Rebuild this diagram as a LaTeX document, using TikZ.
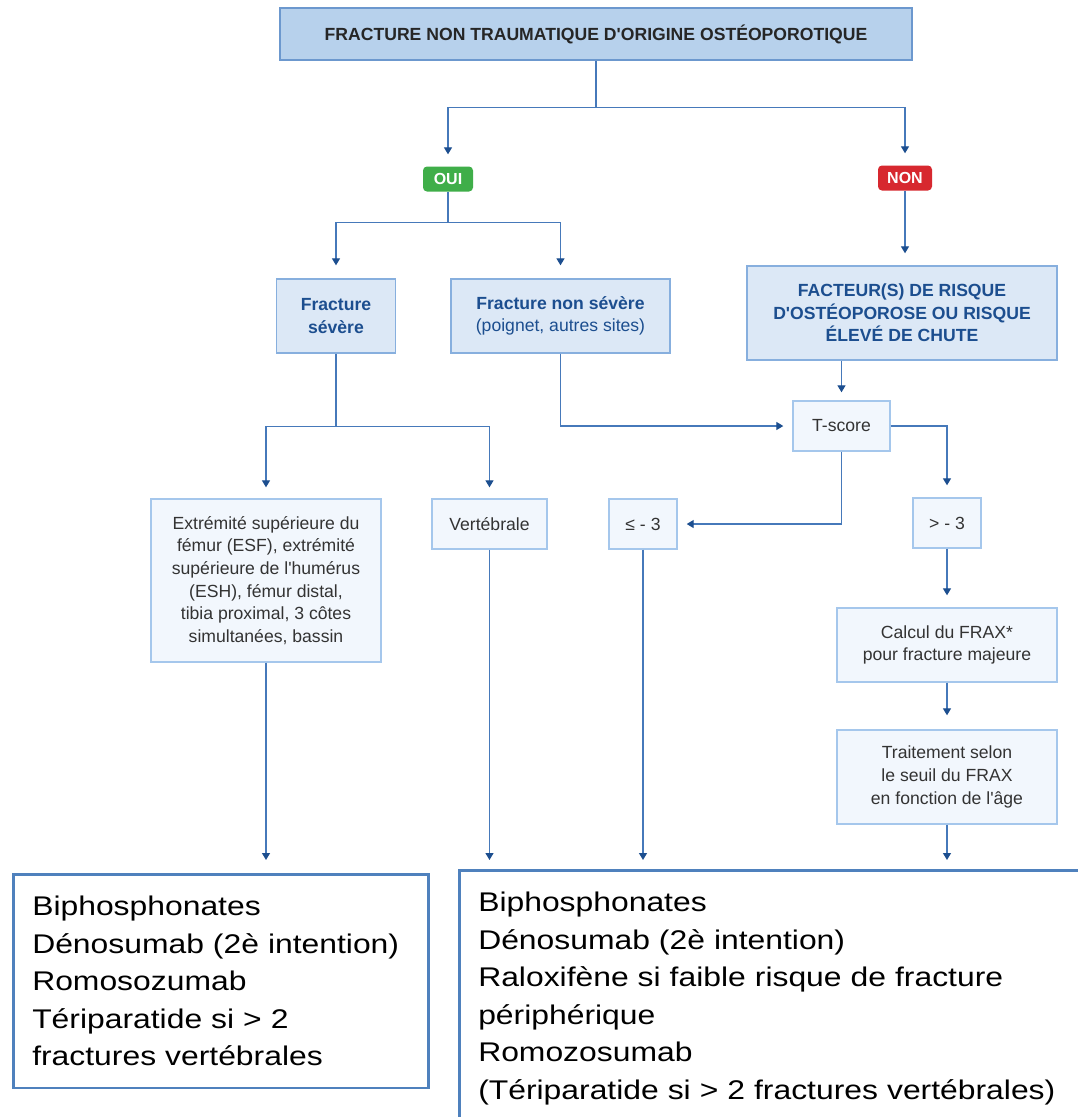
\documentclass[tikz,border=0pt]{standalone}
\usepackage{fontspec}
\setmainfont{Liberation Sans}[Ligatures=TeXOff]
\newfontfamily\widefont{Liberation Sans}[FakeStretch=1.18,Ligatures=TeXOff]
\usetikzlibrary{arrows.meta, positioning}
\definecolor{titlefill}{RGB}{183,209,236}
\definecolor{titledraw}{RGB}{108,152,206}
\definecolor{midfill}{RGB}{220,232,246}
\definecolor{middraw}{RGB}{135,175,222}
\definecolor{lowfill}{RGB}{242,247,253}
\definecolor{lowdraw}{RGB}{165,199,236}
\definecolor{darkblue}{RGB}{28,78,143}
\definecolor{linkblue}{RGB}{70,121,186}
\definecolor{ouigreen}{RGB}{63,174,73}
\definecolor{nonred}{RGB}{215,40,47}
\definecolor{boxblue}{RGB}{79,129,189}
\definecolor{textgray}{RGB}{51,51,51}

\tikzset{
  base/.style={align=center, inner sep=0pt, text=textgray,
               font=\fontsize{17.6}{22.7}\selectfont},
  titlebox/.style={base, draw=titledraw, fill=titlefill, line width=1.5pt,
                   minimum width=632pt, minimum height=52pt, text=black!85,
                   font=\fontsize{17.6}{22.7}\selectfont\bfseries},
  answer/.style={base, rounded corners=4pt, text=white, minimum height=25pt,
                 font=\fontsize{16}{18}\selectfont\bfseries},
  midbox/.style={base, draw=middraw, fill=midfill, line width=1.4pt, text=darkblue},
  lowbox/.style={base, draw=lowdraw, fill=lowfill, line width=1.4pt, minimum height=50pt},
  drugbox/.style={draw=boxblue, line width=2.5pt, align=left, anchor=north west,
                  inner xsep=19pt, inner ysep=22pt,
                  font=\widefont\fontsize{27}{37.5}\selectfont},
  link/.style={draw=linkblue, line width=1.3pt},
  arr/.style={link, -{Triangle[width=8pt,length=7pt,color=darkblue]}},
}

\begin{document}
\begin{tikzpicture}[x=1pt, y=-1pt]
  \path[use as bounding box, fill=white] (0,0) rectangle (1077,1117);

  % decision tree
  \node[titlebox] (title) at (596,34) {FRACTURE NON TRAUMATIQUE D'ORIGINE OSTÉOPOROTIQUE};
  \node[answer, fill=ouigreen, minimum width=50pt] (oui) at (448,179) {OUI};
  \node[answer, fill=nonred, minimum width=54pt] (non) at (905,178) {NON};

  \node[midbox, minimum width=119pt, minimum height=74pt,
        font=\fontsize{17.6}{22.7}\selectfont\bfseries] (severe) at (336,316) {Fracture\\sévère};
  \node[midbox, minimum width=219pt, minimum height=74pt] (mild) at (560.5,316)
    {\textbf{Fracture non sévère}\\(poignet, autres sites)};
  \node[midbox, minimum width=310pt, minimum height=94pt,
        font=\fontsize{17.6}{22.7}\selectfont\bfseries] (risk) at (902,313)
    {FACTEUR(S) DE RISQUE\\D'OSTÉOPOROSE OU RISQUE\\ÉLEVÉ DE CHUTE};

  \node[lowbox, minimum width=97pt] (tscore) at (841.5,426) {T-score};
  \node[lowbox, minimum width=230pt, minimum height=163pt] (sites) at (266,580.5)
    {Extrémité supérieure du\\fémur (ESF), extrémité\\supérieure de l'humérus\\(ESH), fémur distal,\\tibia proximal, 3 côtes\\simultanées, bassin};
  \node[lowbox, minimum width=115pt] (vert) at (489.5,524) {Vertébrale};
  \node[lowbox, minimum width=68pt] (le) at (643,524) {≤ - 3};
  \node[lowbox, minimum width=68pt] (gt) at (947,523) {> - 3};
  \node[lowbox, minimum width=220pt, minimum height=74pt] (frax) at (947,645)
    {Calcul du FRAX*\\pour fracture majeure};
  \node[lowbox, minimum width=220pt, minimum height=94pt] (treat) at (947,777)
    {Traitement selon\\le seuil du FRAX\\en fonction de l'âge};

  % treatments
  \node[drugbox, text width=377pt] (drugsA) at (12,873)
    {Biphosphonates\\Dénosumab (2è intention)\\Romosozumab\\Tériparatide si > 2\\fractures vertébrales};
  \node[drugbox, text width=600pt] (drugsB) at (458,869)
    {Biphosphonates\\Dénosumab (2è intention)\\Raloxifène si faible risque de fracture\\périphérique\\Romozosumab\\(Tériparatide si > 2 fractures vertébrales)};

  % connectors
  \draw[link] (title.south) -- ++(0,47) coordinate (split0);
  \draw[arr, shorten >=12pt] (split0) -| (oui.north);
  \draw[arr, shorten >=12pt] (split0) -| (non.north);

  \draw[link] (oui.south) -- ++(0,31) coordinate (split1);
  \draw[arr, shorten >=13pt] (split1) -| (severe.north);
  \draw[arr, shorten >=13pt] (split1) -| (mild.north);
  \draw[arr, shorten >=12pt] (non.south) -- (non.south |- risk.north);

  \draw[arr, shorten >=8pt] (risk.south -| tscore.north) -- (tscore.north);
  \draw[arr, shorten >=9pt] (mild.south) |- (tscore.west);

  \draw[link] (severe.south) -- ++(0,73) coordinate (split2);
  \draw[arr, shorten >=11pt] (split2) -| (sites.north);
  \draw[arr, shorten >=11pt] (split2) -| (vert.north);

  \draw[arr, shorten >=9pt] (tscore.south) |- (le.east);
  \draw[arr, shorten >=12pt] (tscore.east) -| (gt.north);
  \draw[arr, shorten >=12pt] (gt) -- (frax);
  \draw[arr, shorten >=14pt] (frax) -- (treat);

  \draw[arr, shorten >=13pt] (sites.south) -- (sites.south |- drugsA.north);
  \draw[arr, shorten >=9pt] (vert.south) -- (vert.south |- drugsB.north);
  \draw[arr, shorten >=9pt] (le.south) -- (le.south |- drugsB.north);
  \draw[arr, shorten >=9pt] (treat.south) -- (treat.south |- drugsB.north);
\end{tikzpicture}
\end{document}
